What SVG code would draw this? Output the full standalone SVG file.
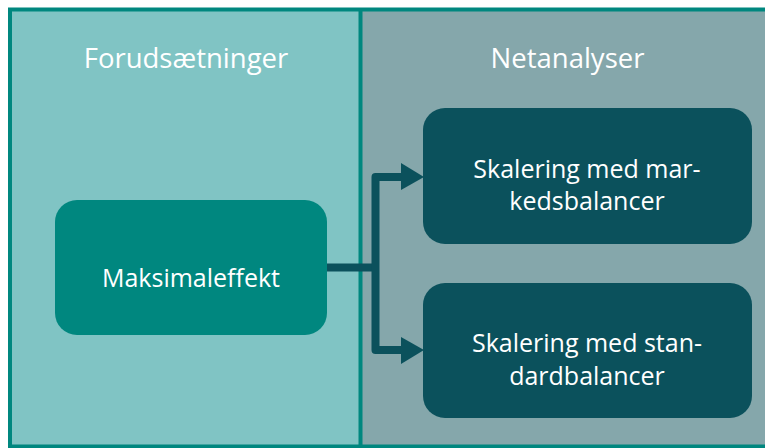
<svg xmlns="http://www.w3.org/2000/svg" width="765" height="448" viewBox="0 0 765 448">
<defs>
<style>
.t{font-family:"Open Sans","Liberation Sans",sans-serif;fill:#ffffff;text-anchor:middle}
.h{font-size:27.5px}
.n{font-size:25px}
.c{fill:none;stroke:#0b515c;stroke-width:8;stroke-linejoin:round}
</style>
</defs>
<rect x="0" y="0" width="765" height="448" fill="#ffffff"/>
<g id="panel-left">
<rect x="10" y="9.5" width="350.5" height="437" fill="#80c4c4"/>
<text class="t h" x="186" y="68">Forudsætninger</text>
</g>
<g id="panel-right">
<rect x="360.5" y="9.5" width="410" height="437" fill="#85a7ab"/>
<text class="t h" x="567.5" y="68">Netanalyser</text>
</g>
<g id="frame" fill="none" stroke="#00877f" stroke-width="4">
<rect x="10" y="9.5" width="770" height="437"/>
<line x1="360.5" y1="9.5" x2="360.5" y2="446.5"/>
</g>
<g id="connectors">
<path class="c" d="M327,267.5 H375.5"/>
<path class="c" d="M402,177 H375.5 V350 H402"/>
<path d="M401,163 L424,177 L401,190 Z" fill="#0b515c"/>
<path d="M401,337 L424,350 L401,364 Z" fill="#0b515c"/>
</g>
<g id="node-maksimaleffekt">
<rect x="55" y="200" width="272" height="135" rx="22" fill="#00877f"/>
<text class="t n" x="191" y="287">Maksimaleffekt</text>
</g>
<g id="node-markedsbalancer">
<rect x="423" y="108" width="329" height="136" rx="22" fill="#0b515c"/>
<text class="t n" x="587" y="178">Skalering med mar-</text>
<text class="t n" x="587" y="210">kedsbalancer</text>
</g>
<g id="node-standardbalancer">
<rect x="423" y="283" width="329" height="135" rx="22" fill="#0b515c"/>
<text class="t n" x="587" y="352">Skalering med stan-</text>
<text class="t n" x="587" y="385">dardbalancer</text>
</g>
</svg>
